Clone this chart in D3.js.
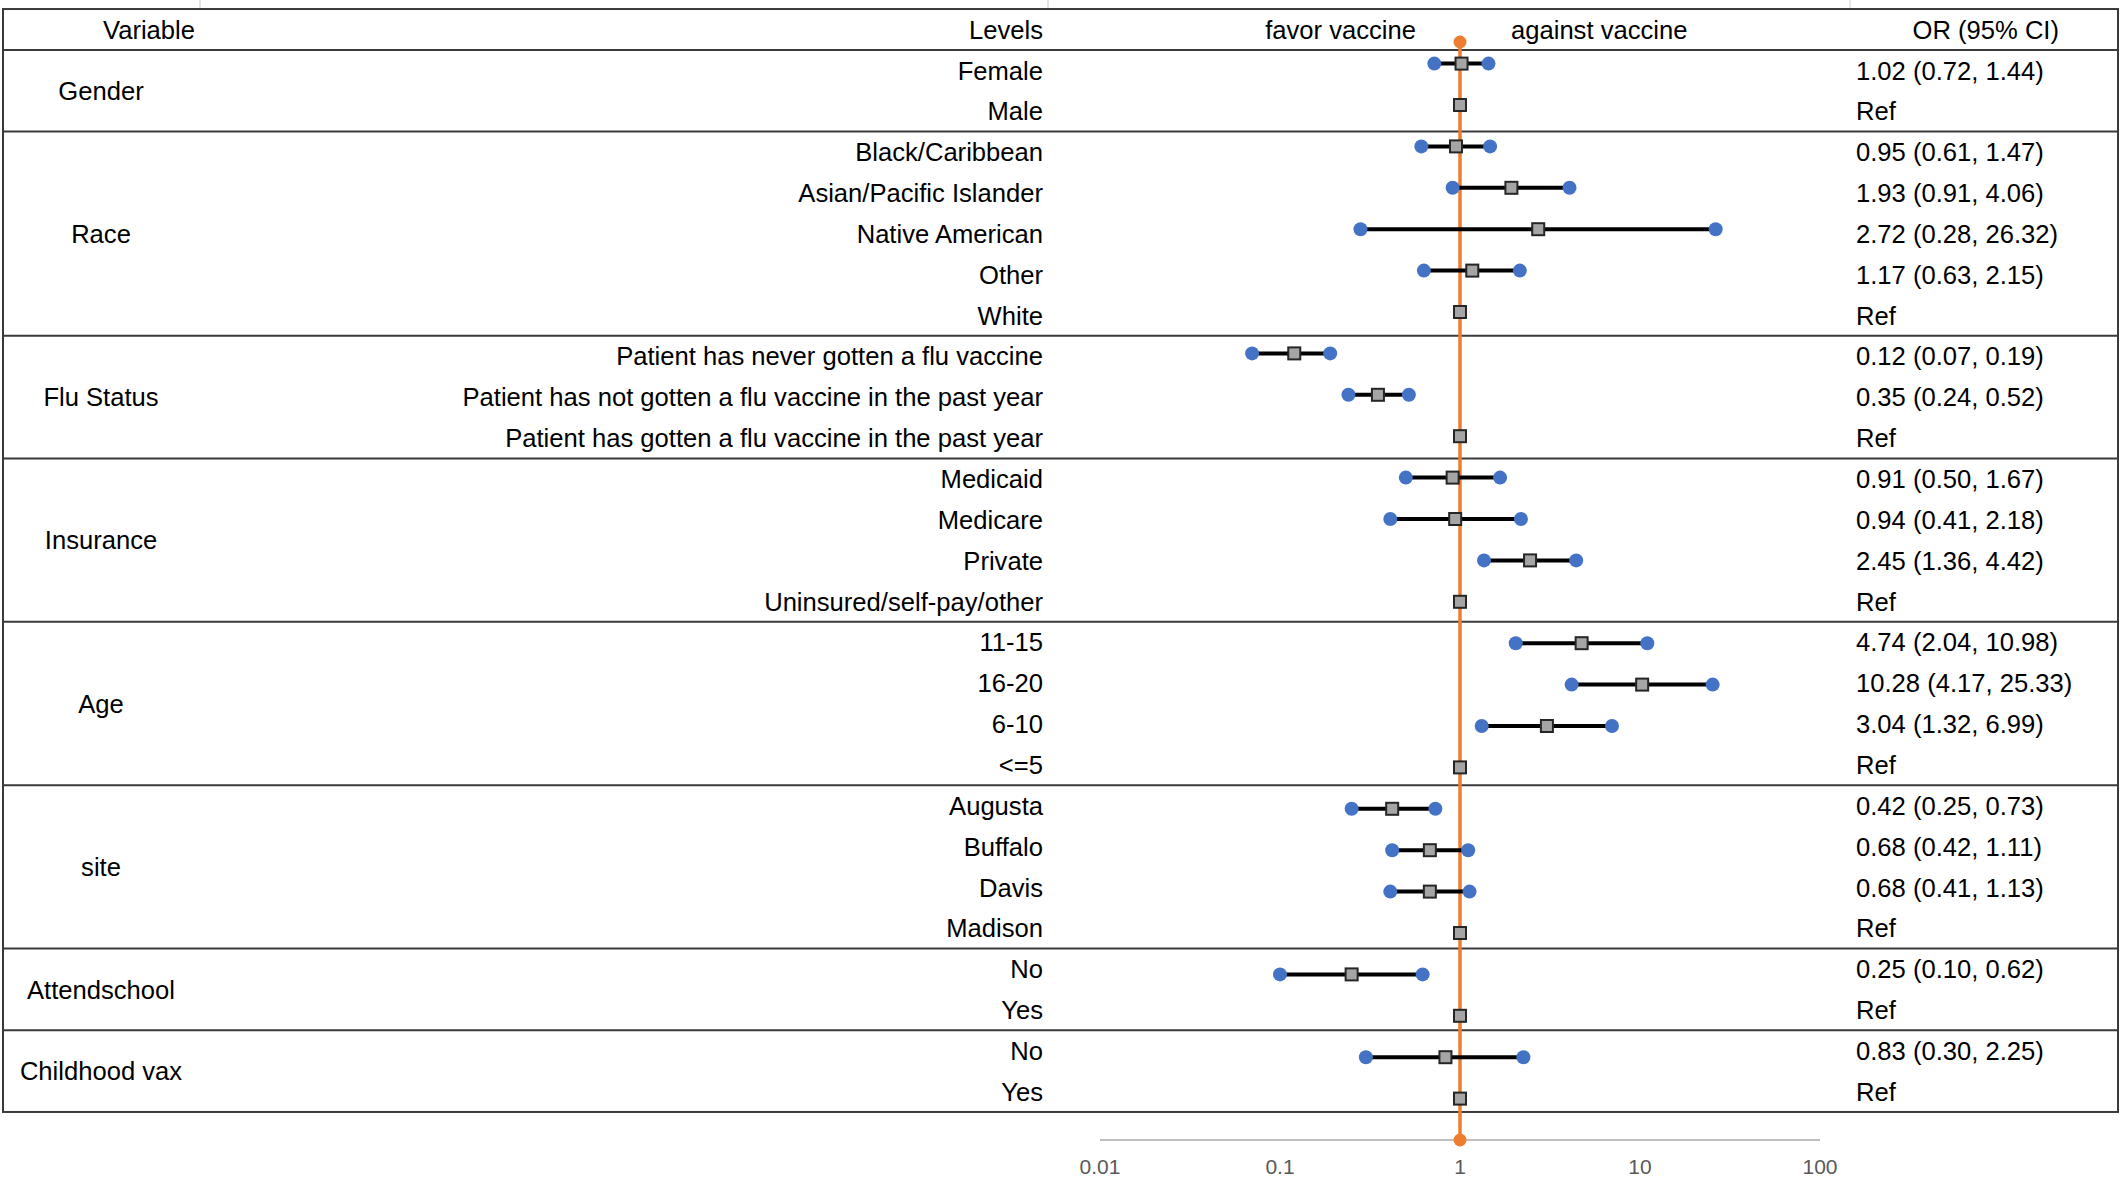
<!DOCTYPE html>
<html><head><meta charset="utf-8">
<script src="https://cdn.jsdelivr.net/npm/d3@7"></script>
<style>html,body{margin:0;padding:0;background:#fff;}svg{display:block;font-family:"Liberation Sans",Arial,sans-serif;}</style>
</head><body>
<svg id="c" width="2121" height="1181"></svg>
<script>
const groups = ["Gender","Race","Flu Status","Insurance","Age","site","Attendschool","Childhood vax"];
const groupSizes = [2,5,3,4,4,4,2,2];
const levels = ["Female","Male","Black/Caribbean","Asian/Pacific Islander","Native American","Other","White",
  "Patient has never gotten a flu vaccine","Patient has not gotten a flu vaccine in the past year","Patient has gotten a flu vaccine in the past year",
  "Medicaid","Medicare","Private","Uninsured/self-pay/other",
  "11-15","16-20","6-10","<=5",
  "Augusta","Buffalo","Davis","Madison",
  "No","Yes","No","Yes"];
const orValues = [1.02,1,0.95,1.93,2.72,1.17,1,0.12,0.35,1,0.91,0.94,2.45,1,4.74,10.28,3.04,1,0.42,0.68,0.68,1,0.25,1,0.83,1];
const ciLow  = [0.72,null,0.61,0.91,0.28,0.63,null,0.07,0.24,null,0.50,0.41,1.36,null,2.04,4.17,1.32,null,0.25,0.42,0.41,null,0.10,null,0.30,null];
const ciHigh = [1.44,null,1.47,4.06,26.32,2.15,null,0.19,0.52,null,1.67,2.18,4.42,null,10.98,25.33,6.99,null,0.73,1.11,1.13,null,0.62,null,2.25,null];
const orLabels = ["1.02 (0.72, 1.44)","Ref","0.95 (0.61, 1.47)","1.93 (0.91, 4.06)","2.72 (0.28, 26.32)","1.17 (0.63, 2.15)","Ref",
  "0.12 (0.07, 0.19)","0.35 (0.24, 0.52)","Ref","0.91 (0.50, 1.67)","0.94 (0.41, 2.18)","2.45 (1.36, 4.42)","Ref",
  "4.74 (2.04, 10.98)","10.28 (4.17, 25.33)","3.04 (1.32, 6.99)","Ref","0.42 (0.25, 0.73)","0.68 (0.42, 1.11)","0.68 (0.41, 1.13)","Ref",
  "0.25 (0.10, 0.62)","Ref","0.83 (0.30, 2.25)","Ref"];
const tickValues = [0.01,0.1,1,10,100];
const tickLabels = ["0.01","0.1","1","10","100"];
const headers = {variable:"Variable", levels:"Levels", favor:"favor vaccine", against:"against vaccine", or:"OR (95% CI)"};

const svg = d3.select("#c");
const n = levels.length;
const rowH = 40.85, row0 = 70.3;
const tableY = i => row0 + i*rowH;           // text rows
const markY = d3.scaleLinear().domain([0, n-1]).range([63.6, 1098.6]); // chart overlay rows
const x = d3.scaleLog().domain([0.01,100]).range([1100,1820]);
const fs = 25.6;
const left = 3, right = 2118;

// faint cell gridlines above table
[200,1048,1850].forEach(xx => svg.append("line").attr("x1",xx).attr("x2",xx).attr("y1",0).attr("y2",tableY(-1.5)).attr("stroke","#d9d9d9").attr("stroke-width",1.3));

// table frame
const topY = tableY(-1.5), botY = tableY(n-0.5);
svg.append("rect").attr("x",left).attr("y",topY).attr("width",right-left).attr("height",botY-topY)
  .attr("fill","none").attr("stroke","#3a3a3a").attr("stroke-width",2);
// separators
let cum = 0;
const seps = [tableY(-0.5)];
groupSizes.forEach((s,gi) => { cum += s; if (cum < n) seps.push(tableY(cum-0.5)); });
svg.selectAll("line.sep").data(seps).join("line").attr("class","sep")
  .attr("x1",left).attr("x2",right).attr("y1",d=>d).attr("y2",d=>d).attr("stroke","#3a3a3a").attr("stroke-width",2);

// headers
const hy = tableY(-1);
function txt(t, xx, yy, anchor, size, color){
  return svg.append("text").attr("x",xx).attr("y",yy).attr("dy","0.36em").attr("text-anchor",anchor)
    .attr("font-size",size||fs).attr("fill",color||"#000").text(t);
}
txt(headers.variable,149,hy,"middle");
txt(headers.levels,1043,hy,"end");
txt(headers.favor,1416,hy,"end");
txt(headers.against,1511,hy,"start");
txt(headers.or,2059,hy,"end");

// group labels
cum = 0;
groups.forEach((g,gi) => {
  const mid = cum + (groupSizes[gi]-1)/2;
  txt(g,101,tableY(mid),"middle");
  cum += groupSizes[gi];
});
// level labels and OR labels
levels.forEach((l,i) => { txt(l,1043,tableY(i),"end"); txt(orLabels[i],1856,tableY(i),"start"); });

// axis
const axY = 1140;
svg.append("line").attr("x1",x(0.01)).attr("x2",x(100)).attr("y1",axY).attr("y2",axY).attr("stroke","#bfbfbf").attr("stroke-width",2);
svg.selectAll("text.tick").data(tickValues).join("text").attr("class","tick")
  .attr("x",d=>x(d)).attr("y",1166).attr("dy","0.36em").attr("text-anchor","middle")
  .attr("font-size",21).attr("fill","#595959").text((d,i)=>tickLabels[i]);

// reference line
svg.append("line").attr("x1",x(1)).attr("x2",x(1)).attr("y1",42).attr("y2",axY).attr("stroke","#ED7D31").attr("stroke-width",3.5);
[42,axY].forEach(yy => svg.append("circle").attr("cx",x(1)).attr("cy",yy).attr("r",6.5).attr("fill","#ED7D31"));

// CI lines
const idx = d3.range(n);
const ci = idx.filter(i => ciLow[i] !== null);
svg.selectAll("line.ci").data(ci).join("line").attr("class","ci")
  .attr("x1",i=>x(ciLow[i])).attr("x2",i=>x(ciHigh[i])).attr("y1",i=>markY(i)).attr("y2",i=>markY(i))
  .attr("stroke","#000").attr("stroke-width",4);
svg.selectAll("circle.lo").data(ci).join("circle").attr("class","lo")
  .attr("cx",i=>x(ciLow[i])).attr("cy",i=>markY(i)).attr("r",7).attr("fill","#4472C4");
svg.selectAll("circle.hi").data(ci).join("circle").attr("class","hi")
  .attr("cx",i=>x(ciHigh[i])).attr("cy",i=>markY(i)).attr("r",7).attr("fill","#4472C4");
const sq = 12;
svg.selectAll("rect.pt").data(idx).join("rect").attr("class","pt")
  .attr("x",i=>x(orValues[i])-sq/2).attr("y",i=>markY(i)-sq/2).attr("width",sq).attr("height",sq)
  .attr("fill","#A5A5A5").attr("stroke","#262626").attr("stroke-width",2);
</script>
</body></html>
